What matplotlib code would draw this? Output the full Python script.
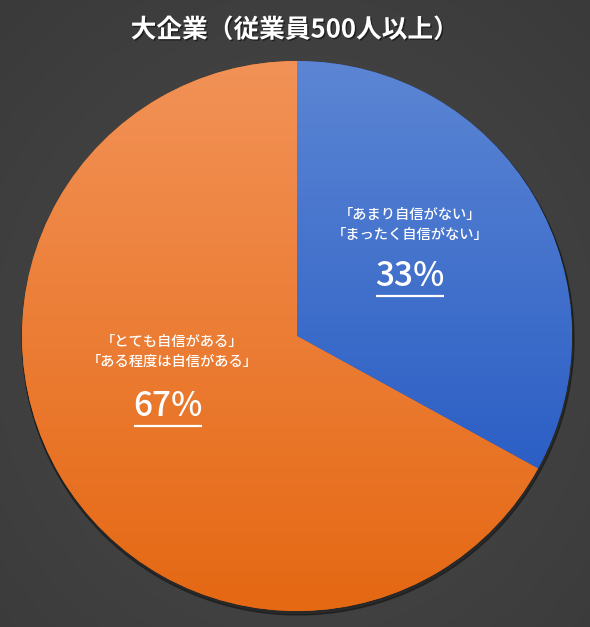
import numpy as np
import matplotlib
matplotlib.use("Agg")
import matplotlib.pyplot as plt
import matplotlib.patheffects as pe
from matplotlib.colors import LinearSegmentedColormap

plt.rcParams['font.family'] = ['Noto Sans CJK JP', 'DejaVu Sans']

title = "大企業（従業員500人以上）"
categories = ["「あまり自信がない」\n「まったく自信がない」", "「とても自信がある」\n「ある程度は自信がある」"]
values = [33, 67]
pct_labels = ["33%", "67%"]
top_colors = ["#5c86d4", "#f29257"]
bottom_colors = ["#2c5fc5", "#e56813"]

W, H = 590, 627
fig = plt.figure(figsize=(W / 100, H / 100), dpi=100)
ax = fig.add_axes([0, 0, 1, 1])
ax.set_xlim(0, W)
ax.set_ylim(0, H)
ax.set_aspect('equal')
ax.axis('off')

# background radial gradient
yy, xx = np.mgrid[0:H, 0:W]
r = np.sqrt(((xx - W * 0.5) / W) ** 2 + ((yy - H * 0.55) / H) ** 2)
bg = np.clip(r / 0.75, 0, 1)
bg_cmap = LinearSegmentedColormap.from_list("bg", ["#4a4a4a", "#3a3a3a"])
ax.imshow(bg, cmap=bg_cmap, extent=(0, W, 0, H), origin='upper', zorder=0, aspect='auto')

cx, cy, R = 297, H - 336, 275

# shadow
shadow = plt.Circle((cx + 1, cy - 3), R + 1, color='black', alpha=0.35, zorder=1)
ax.add_patch(shadow)

wedges, _ = ax.pie(values, startangle=90, counterclock=False, center=(cx, cy), radius=R,
                   colors=bottom_colors, frame=True,
                   wedgeprops=dict(linewidth=0, zorder=2))
ax.set_xlim(0, W)
ax.set_ylim(0, H)
ax.axis('off')

for w, ct, cb in zip(wedges, top_colors, bottom_colors):
    bb = w.get_path().get_extents(w.get_patch_transform())
    cmap = LinearSegmentedColormap.from_list("g", [ct, cb])
    grad = np.linspace(0, 1, 256).reshape(-1, 1)
    im = ax.imshow(grad, cmap=cmap, extent=(bb.x0, bb.x1, bb.y0, bb.y1), origin='upper',
                   zorder=3, aspect='auto')
    im.set_clip_path(w)

ax.set_xlim(0, W)
ax.set_ylim(0, H)

shadow_fx = [pe.withSimplePatchShadow(offset=(1, -1), shadow_rgbFace='black', alpha=0.5)]
fig.text(0.5, 1 - 30 / H, title, ha='center', va='center', color='white', fontsize=18.5,
         fontweight='bold', path_effects=shadow_fx)

label_pos = [(410, 225), (172, 352)]
pct_pos = [(410, 277), (168, 407)]
for cat, pl, (lx, ly), (px, py) in zip(categories, pct_labels, label_pos, pct_pos):
    ax.text(lx, H - ly, cat, ha='center', va='center', color='white', fontsize=10.3,
            fontweight='medium', linespacing=1.6, zorder=5)
    t = ax.text(px, H - py, pl, ha='center', va='center', color='white', fontsize=24,
                fontweight='medium', zorder=5)

fig.canvas.draw()
renderer = fig.canvas.get_renderer()
for t in ax.texts:
    if t.get_text().endswith('%'):
        bb = t.get_window_extent(renderer)
        y = bb.y0 - 1
        ax.plot([bb.x0 + 1, bb.x1 - 1], [y, y], color='white', lw=1.6, zorder=5,
                solid_capstyle='butt')

fig.savefig("out.png", dpi=100)
